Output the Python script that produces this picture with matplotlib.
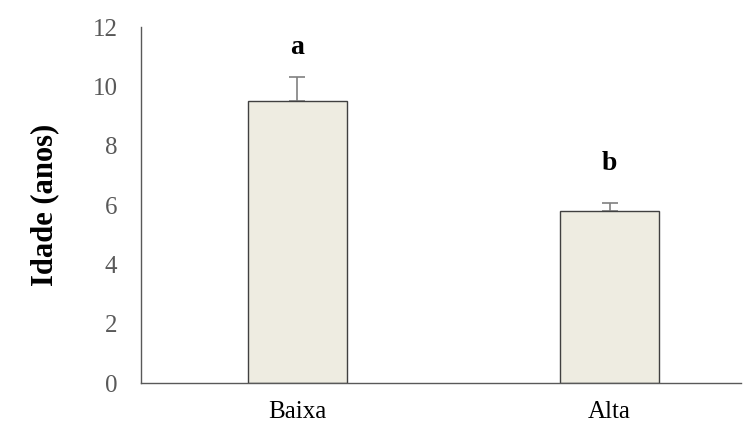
import matplotlib
matplotlib.use("Agg")
import matplotlib.pyplot as plt

# dados
categorias = ["Baixa", "Alta"]
idade = [9.5, 5.8]
erro = [0.8, 0.28]
letras = ["a", "b"]
letra_y = [11.3, 7.4]
yticks = [0, 2, 4, 6, 8, 10, 12]

plt.rcParams['font.family'] = ['Liberation Serif', 'DejaVu Serif']

fig = plt.figure(figsize=(7.47, 4.26), dpi=100)
ax = fig.add_axes([0.1888, 0.1009, 0.803, 0.8357])

x = range(len(categorias))
ax.bar(x, idade, 0.317, color='#EEECE1', edgecolor='#404040', linewidth=1.0, zorder=2)
ax.errorbar(x, idade, yerr=[[0, 0], erro], fmt='none', ecolor='#808080',
            elinewidth=1.2, capsize=6, capthick=1.2, zorder=1)

for xi, l, ly in zip(x, letras, letra_y):
    ax.text(xi, ly, l, ha='center', va='center', fontsize=20, fontweight='bold')

ax.set_xlim(-0.5, 1.42)
ax.set_ylim(0, 12)
ax.set_yticks(yticks)
ax.set_xticks(list(x))
ax.set_xticklabels(categorias, fontsize=18, color='black')
ax.tick_params(axis='y', labelsize=18, labelcolor='#595959', length=0, pad=17)
ax.tick_params(axis='x', length=0, pad=13)

for s in ['top', 'right']:
    ax.spines[s].set_visible(False)
for s in ['left', 'bottom']:
    ax.spines[s].set_color('#595959')
    ax.spines[s].set_linewidth(1.0)

ax.set_ylabel("Idade (anos)", fontsize=22, fontweight='bold', labelpad=24)

fig.savefig("out.png", dpi=100)
